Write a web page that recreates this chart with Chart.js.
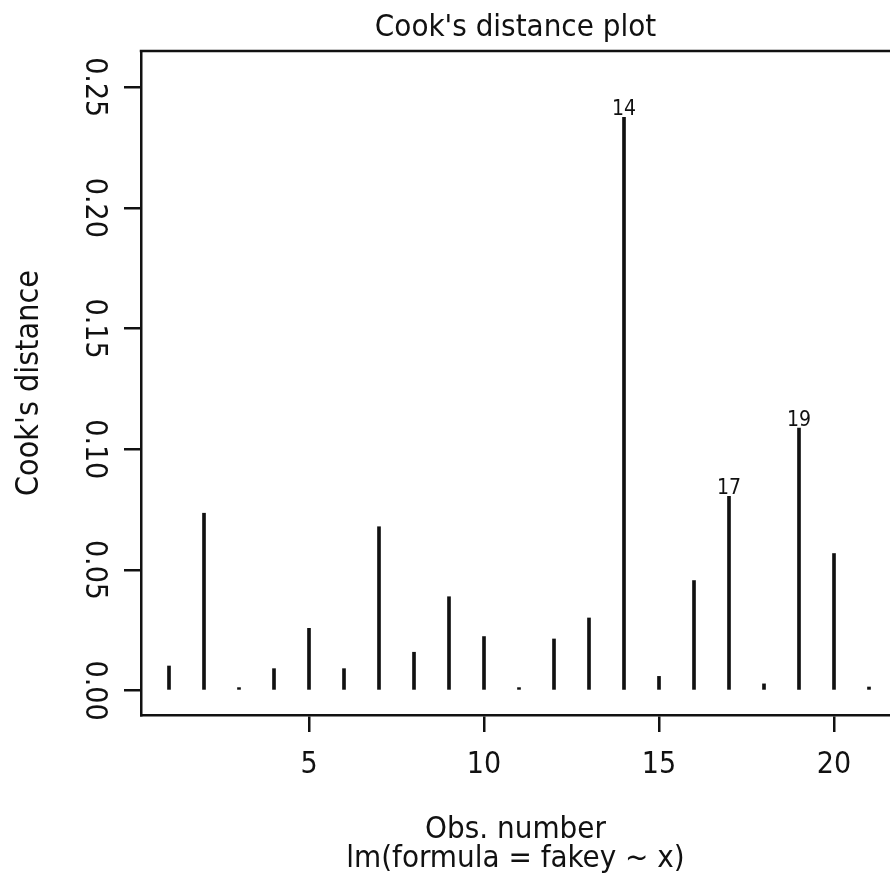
<!DOCTYPE html>
<html>
<head>
<meta charset="utf-8">
<title>Cook's distance plot</title>
<script src="https://cdn.jsdelivr.net/npm/chart.js@4/dist/chart.umd.min.js"></script>
<style>
  html, body { margin: 0; padding: 0; background: #ffffff; }
  #wrap { width: 890px; height: 875px; }
</style>
</head>
<body>
<div id="wrap"><canvas id="cook" width="890" height="875"></canvas></div>
<script>
// Observation numbers and their Cook's distances
const obsNumbers = [1, 2, 3, 4, 5, 6, 7, 8, 9, 10, 11, 12, 13, 14, 15, 16, 17, 18, 19, 20, 21];
const cooksDistance = [0.0102, 0.0735, 0.0003, 0.0091, 0.0258, 0.0091, 0.0679, 0.0159, 0.0389, 0.0224,
                       0.0003, 0.0214, 0.0301, 0.2375, 0.0059, 0.0456, 0.0805, 0.0028, 0.1088, 0.0568, 0.0015];
// Observations flagged with their number above the spike
const flaggedObs = [14, 17, 19];
// Axis tick positions
const xTickValues = [5, 10, 15, 20];
const yTickValues = [0.00, 0.05, 0.10, 0.15, 0.20, 0.25];

const FONT = "'Liberation Sans Narrow', 'Arial Narrow', 'DejaVu Sans Condensed', sans-serif";
const INK = '#111111';

// Draws the top edge of the plot frame and the numbers of flagged observations
const framePlugin = {
  id: 'frameAndFlags',
  afterDraw(chart) {
    const { ctx, chartArea } = chart;
    ctx.save();
    ctx.strokeStyle = INK;
    ctx.lineWidth = 2.5;
    ctx.beginPath();
    ctx.moveTo(chartArea.left - 1.25, chartArea.top);
    ctx.lineTo(chartArea.right, chartArea.top);
    ctx.stroke();

    const meta = chart.getDatasetMeta(0);
    ctx.fillStyle = INK;
    ctx.font = '21px ' + FONT;
    ctx.textAlign = 'center';
    ctx.textBaseline = 'alphabetic';
    flaggedObs.forEach(n => {
      const i = obsNumbers.indexOf(n);
      const bar = meta.data[i];
      ctx.fillText(String(n), bar.x, bar.y - 2);
    });
    ctx.restore();
  }
};

new Chart(document.getElementById('cook'), {
  type: 'bar',
  data: {
    datasets: [{
      data: obsNumbers.map((n, i) => ({ x: n, y: cooksDistance[i] })),
      backgroundColor: INK,
      borderWidth: 0,
      barThickness: 3,
      minBarLength: 3
    }]
  },
  options: {
    responsive: false,
    animation: false,
    devicePixelRatio: 1,
    layout: { padding: { top: 0, left: 0, right: 0, bottom: 0 } },
    plugins: {
      legend: { display: false },
      tooltip: { enabled: false },
      title: {
        display: true,
        text: "Cook's distance plot",
        fullSize: false,
        color: INK,
        font: { family: FONT, size: 31, weight: 'normal', lineHeight: 1 },
        padding: { top: 12.5, bottom: 7.5 }
      }
    },
    scales: {
      x: {
        type: 'linear',
        min: 0.2,
        max: 21.6,
        offset: false,
        afterBuildTicks(scale) { scale.ticks = xTickValues.map(v => ({ value: v })); },
        afterFit(scale) { scale.height = 160; },
        grid: { display: true, drawOnChartArea: false, drawTicks: true, tickLength: 17, color: INK, lineWidth: 2.5, offset: false },
        border: { display: true, color: INK, width: 2.5 },
        ticks: {
          color: INK,
          padding: 18,
          maxRotation: 0,
          autoSkip: false,
          font: { family: FONT, size: 30, lineHeight: 1 },
          callback: v => String(v)
        },
        title: {
          display: true,
          text: ['Obs. number', 'lm(formula = fakey ~ x)'],
          color: INK,
          font: { family: FONT, size: 31, lineHeight: '29px' },
          padding: { top: 0, bottom: 2 }
        }
      },
      y: {
        type: 'linear',
        min: -0.0101,
        max: 0.265,
        afterBuildTicks(scale) { scale.ticks = yTickValues.map(v => ({ value: v })); },
        afterFit(scale) { scale.width = 141; },
        grid: { display: true, drawOnChartArea: false, drawTicks: true, tickLength: 17, color: INK, lineWidth: 2.5 },
        border: { display: true, color: INK, width: 2.5 },
        ticks: {
          color: INK,
          padding: 0,
          minRotation: -90,
          maxRotation: -90,
          crossAlign: 'center',
          autoSkip: false,
          font: { family: FONT, size: 30, lineHeight: 1 },
          callback: v => v.toFixed(2)
        },
        title: {
          display: true,
          text: "Cook's distance",
          color: INK,
          font: { family: FONT, size: 32, lineHeight: 1 },
          padding: { top: 14, bottom: 0 }
        }
      }
    }
  },
  plugins: [framePlugin]
});
</script>
</body>
</html>
